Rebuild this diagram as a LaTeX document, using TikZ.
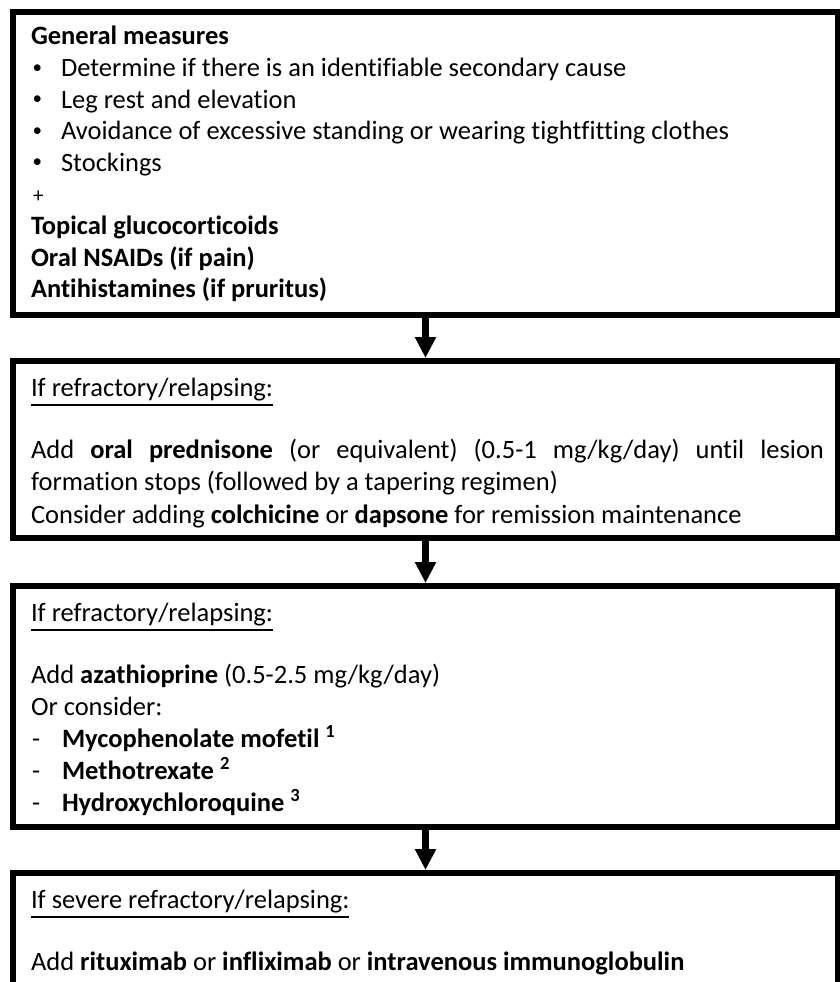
\documentclass[tikz,border=0pt]{standalone}
\usepackage{fontspec}
\setmainfont{Carlito}[Ligatures=CommonOff]
\usetikzlibrary{arrows.meta}
\newlength\ulw
\newcommand\myul[1]{\leavevmode\settowidth{\ulw}{#1}\rlap{\rule[-9.5pt]{\ulw}{1.8pt}}#1}
\newcommand\bul{\makebox[30pt][l]{\hspace*{1.5pt}\raisebox{3.5pt}{\fontsize{19}{19}\selectfont\textbullet}}}
\newcommand\dsh{\makebox[31pt][l]{\hspace*{1pt}-}}
\begin{document}
\begin{tikzpicture}[x=1pt,y=-1pt,
  box/.style={draw=black,line width=6pt,rectangle,inner sep=0pt,anchor=north west,minimum width=825pt},
  flow/.style={line width=7pt,-{Triangle[width=20pt,length=21pt]}},
  txt/.style={anchor=base west,inner sep=0pt,outer sep=0pt}]
\useasboundingbox (0,0) rectangle (840,982);
\clip (0,0) rectangle (840,982);
\fill[white] (0,0) rectangle (840,982);

\node[box,minimum height=303pt] (b1) at (10,9) {};
\node[box,minimum height=177pt] (b2) at (10,358) {};
\node[box,minimum height=241pt] (b3) at (10,583) {};
\node[box,minimum height=200pt] (b4) at (10,870) {};

\draw[flow] (b1.south) -- (b2.north);
\draw[flow] (b2.south) -- (b3.north);
\draw[flow] (b3.south) -- (b4.north);

\node[txt] (t1) at (31,45) {\parbox[t]{800pt}{\fontsize{26.5}{31.6}\selectfont\raggedright
\textbf{General measures}\\
\bul Determine if there is an identifiable secondary cause\\
\bul Leg rest and elevation\\
\bul Avoidance of excessive standing or wearing tightfitting clothes\\
\bul Stockings\\
\hspace*{2pt}{\fontsize{21}{21}\selectfont +}\\
\textbf{Topical glucocorticoids}\\
\textbf{Oral NSAIDs (if pain)}\\
\textbf{Antihistamines (if pruritus)}}};

\node[txt] (t2) at (31,396) {\parbox[t]{800pt}{\fontsize{26.5}{32.5}\selectfont\raggedright
\myul{If refractory/relapsing:}\\[29.5pt]
\makebox[793pt][s]{Add \textbf{oral prednisone} (or equivalent) (0.5-1 mg/kg/day) until lesion}\\
formation stops (followed by a tapering regimen)\\
Consider adding \textbf{colchicine} or \textbf{dapsone} for remission maintenance}};

\node[txt] (t3) at (31,621) {\parbox[t]{800pt}{\fontsize{26.5}{32}\selectfont\raggedright
\myul{If refractory/relapsing:}\\[30pt]
Add \textbf{azathioprine} (0.5-2.5 mg/kg/day)\\
Or consider:\\
\dsh\textbf{Mycophenolate mofetil \textsuperscript{1}}\\
\dsh\textbf{Methotrexate \textsuperscript{2}}\\
\dsh\textbf{Hydroxychloroquine \textsuperscript{3}}}};

\node[txt] (t4) at (31,908) {\parbox[t]{800pt}{\fontsize{26.5}{32}\selectfont\raggedright
\myul{If severe refractory/relapsing:}\\[30pt]
Add \textbf{rituximab} or \textbf{infliximab} or \textbf{intravenous immunoglobulin}}};
\end{tikzpicture}
\end{document}
